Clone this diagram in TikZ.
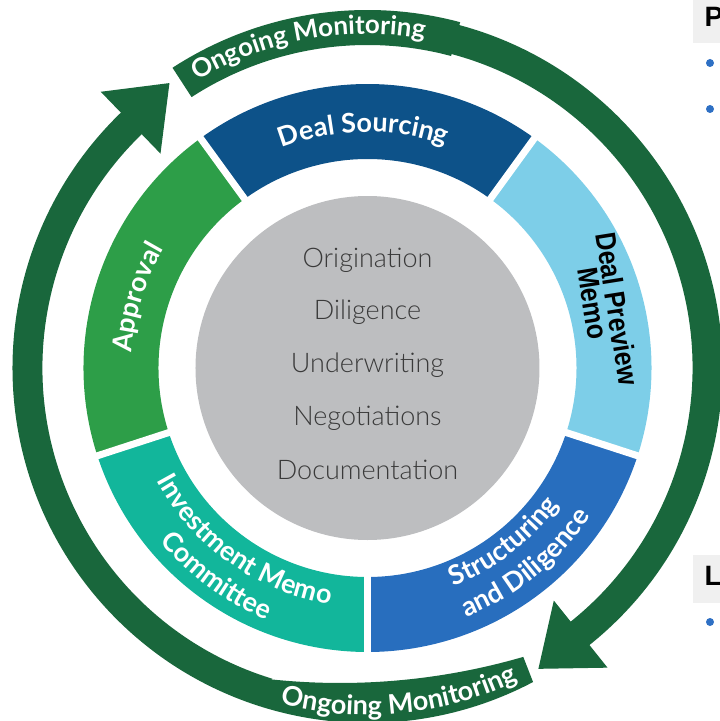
\documentclass[tikz,border=0pt]{standalone}
\usepackage{fontspec}
\setmainfont{Lato}
\newfontfamily\lightf{Lato Light}
\newfontfamily\arialf{Liberation Sans}
\usetikzlibrary{decorations.text}
\definecolor{ringgreen}{RGB}{25,103,60}
\definecolor{dealsrc}{RGB}{13,82,137}
\definecolor{preview}{RGB}{125,206,232}
\definecolor{structc}{RGB}{40,110,190}
\definecolor{investc}{RGB}{18,182,155}
\definecolor{approvc}{RGB}{45,158,72}
\definecolor{grayc}{RGB}{189,190,192}
\definecolor{ctext}{RGB}{58,58,58}
\definecolor{pbox}{RGB}{240,240,240}
\definecolor{bulletc}{RGB}{46,112,196}
\newcommand\lblfont[1]{\color{white}\fontsize{#1pt}{#1pt}\bfseries\selectfont}
\newcommand\annseg[3]{\fill[#3] (#1:209pt) arc[start angle=#1,end angle=#2,radius=209pt] -- (#2:284pt) arc[start angle=#2,end angle=#1,radius=284pt] -- cycle;}
\newcommand\arctext[5]{\path[decorate,decoration={text along path,text={|\lblfont{#4}|#5},text align=center}] (#1:#3pt) arc[start angle=#1,end angle=#2,radius=#3pt];}
\begin{document}
\begin{tikzpicture}[x=1pt,y=1pt,
  centertxt/.style={font=\lightf\fontsize{27pt}{27pt}\selectfont,text=ctext,inner sep=0pt},
  sidehead/.style={font=\arialf\bfseries\fontsize{28pt}{28pt}\selectfont,inner sep=0pt,anchor=base west},
  previewtxt/.style={font=\arialf\bfseries\fontsize{25pt}{25pt}\selectfont,text=black,inner sep=0pt,rotate=-81}]
\useasboundingbox (-367.5,-353) rectangle (352.5,368);
% segments
\annseg{54}{126}{dealsrc}
\annseg{-18}{54}{preview}
\annseg{-90}{-18}{structc}
\annseg{-162}{-90}{investc}
\annseg{126}{198}{approvc}
\foreach \a in {54,126,198,270,342}{\draw[white,line width=7pt] (\a:200pt) -- (\a:295pt);}
% centre circle
\fill[grayc] (0,0) circle[radius=172pt];
\node[centertxt] (t1) at (0,108) {Origination};
\node[centertxt] (t2) at (0,56) {Diligence};
\node[centertxt] (t3) at (0,3) {Underwriting};
\node[centertxt] (t4) at (0,-50) {Negotiations};
\node[centertxt] (t5) at (0,-102) {Documentation};
% outer arrows
\fill[ringgreen] (78:325pt) arc[start angle=78,end angle=-51.3,radius=325pt] -- (-51.3:298pt) -- (-60.4:346pt) -- (-51.3:384pt) -- (-51.3:355pt) arc[start angle=-51.3,end angle=78,radius=355pt] -- cycle;
\fill[ringgreen] (123:323pt) arc[start angle=123,end angle=75,radius=323pt] -- (75:358pt) arc[start angle=75,end angle=123,radius=358pt] -- cycle;
\fill[ringgreen] (-62.2:355pt) -- ([shift={(-27.5pt,342pt)}]-73.8:657pt) arc[start angle=-73.8,end angle=-96.1,radius=657pt] -- (-107:325pt) arc[start angle=-107,end angle=-226,radius=325pt] -- (-226:298pt) -- (-235.2:347pt) -- (-226:384pt) -- (-226:355pt) arc[start angle=-226,end angle=-62.2,radius=355pt] -- cycle;
% curved labels
\arctext{140.45}{60.45}{334}{26}{Ongoing Monitoring}
\arctext{-124.4}{-44.4}{347}{27}{Ongoing Monitoring}
\arctext{131}{51}{236}{27}{Deal Sourcing}
\arctext{203}{123}{236}{27}{Approval}
\arctext{-92}{-12}{235}{27}{Structuring}
\arctext{-91}{-11}{268}{27}{and Diligence}
\arctext{-165.5}{-85.5}{239}{27}{Investment Memo}
\arctext{-166}{-86}{271}{27}{Committee}
% deal preview memo
\node[previewtxt] (dp1) at (250,59) {\scalebox{1}[1.15]{Deal Preview}};
\node[previewtxt] (dp2) at (225,64.5) {\scalebox{1}[1.15]{Memo}};
% right edge fragments
\fill[pbox] (325.5,325) rectangle (352.5,370);
\node[sidehead] (ph) at (337,341) {P};
\fill[pbox] (325.5,-235) rectangle (352.5,-187);
\node[sidehead] (lh) at (337,-217) {L};
\fill[bulletc] (342.5,305) circle[radius=4pt];
\fill[bulletc] (342.5,259) circle[radius=4pt];
\fill[bulletc] (342.5,-254) circle[radius=4pt];
\end{tikzpicture}
\end{document}
